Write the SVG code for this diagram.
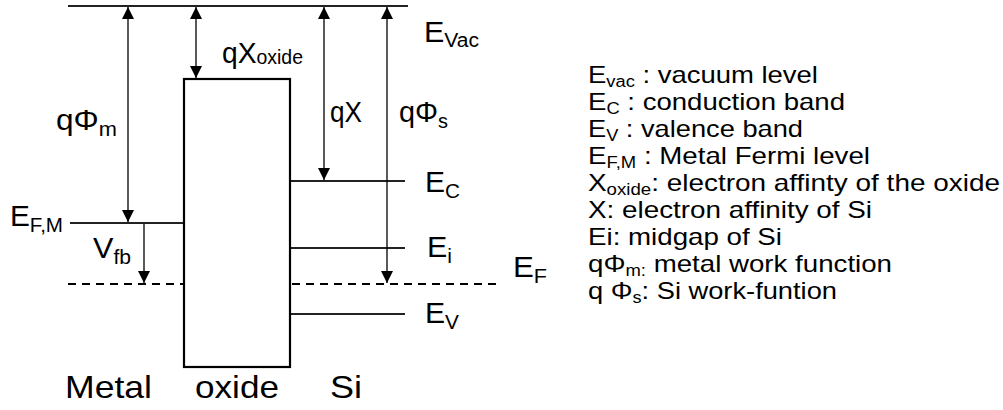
<svg xmlns="http://www.w3.org/2000/svg" width="1003" height="410" viewBox="0 0 1003 410">
<style>
text{font-family:"Liberation Sans",Arial,sans-serif;fill:#000}
.lbl{font-size:29px}
.big{font-size:32px}
.leg{font-size:24px}
.ln{stroke:#000;stroke-width:1.3;fill:none}
.lvl{stroke:#222;stroke-width:1.8;fill:none}
.dash{stroke:#000;stroke-width:2;stroke-dasharray:8 6;fill:none}
</style>
<defs>
<marker id="ah" viewBox="0 0 10 10" refX="10" refY="5" markerWidth="13" markerHeight="12" markerUnits="userSpaceOnUse" orient="auto-start-reverse">
<path d="M0,0 L10,5 L0,10 z" fill="#000"/>
</marker>
</defs>
<g id="levels">
<line class="lvl" x1="68" y1="6" x2="408" y2="6" stroke-width="2.2"/>
<line class="lvl" x1="70" y1="223" x2="184" y2="223" stroke="#444"/>
<line class="lvl" x1="290" y1="181" x2="405" y2="181"/>
<line class="lvl" x1="290" y1="248" x2="405" y2="248"/>
<line class="lvl" x1="290" y1="314" x2="405" y2="314"/>
<line class="dash" x1="68" y1="284" x2="184" y2="284"/>
<line class="dash" x1="292" y1="284" x2="500" y2="284"/>
</g>
<g id="oxide">
<rect x="184" y="79" width="106" height="288" fill="none" stroke="#000" stroke-width="2.2"/>
</g>
<g id="connectors">
<line class="ln" x1="128" y1="7" x2="128" y2="222" marker-start="url(#ah)" marker-end="url(#ah)"/>
<line class="ln" x1="196" y1="7" x2="196" y2="78" marker-start="url(#ah)" marker-end="url(#ah)"/>
<line class="ln" x1="324" y1="7" x2="324" y2="180" marker-start="url(#ah)" marker-end="url(#ah)"/>
<line class="ln" x1="387" y1="7" x2="387" y2="283" marker-start="url(#ah)" marker-end="url(#ah)"/>
<line class="ln" x1="144" y1="224" x2="144" y2="283" stroke-width="2" marker-end="url(#ah)"/>
</g>
<g id="labels">
<text class="lbl" x="424" y="42" textLength="55" lengthAdjust="spacingAndGlyphs">E<tspan font-size="20" dy="5">Vac</tspan></text>
<text class="lbl" x="222" y="63" textLength="81" lengthAdjust="spacingAndGlyphs">qX<tspan font-size="20" dy="1">oxide</tspan></text>
<text class="lbl" x="56" y="130" textLength="61" lengthAdjust="spacingAndGlyphs">qΦ<tspan font-size="20" dy="6">m</tspan></text>
<text class="lbl" x="330" y="122" textLength="32" lengthAdjust="spacingAndGlyphs">qX</text>
<text class="lbl" x="399" y="122" textLength="49" lengthAdjust="spacingAndGlyphs">qΦ<tspan font-size="20" dy="6">s</tspan></text>
<text class="lbl" x="425" y="192" textLength="35" lengthAdjust="spacingAndGlyphs">E<tspan font-size="20" dy="6">C</tspan></text>
<text class="lbl" x="10" y="226" textLength="53" lengthAdjust="spacingAndGlyphs">E<tspan font-size="20" dy="6">F,M</tspan></text>
<text class="lbl" x="93" y="258" textLength="38" lengthAdjust="spacingAndGlyphs">V<tspan font-size="20" dy="6">fb</tspan></text>
<text class="lbl" x="427" y="257" textLength="25" lengthAdjust="spacingAndGlyphs">E<tspan font-size="20" dy="6">i</tspan></text>
<text class="lbl" x="513" y="277" textLength="34" lengthAdjust="spacingAndGlyphs">E<tspan font-size="20" dy="6">F</tspan></text>
<text class="lbl" x="425" y="323" textLength="34" lengthAdjust="spacingAndGlyphs">E<tspan font-size="20" dy="6">V</tspan></text>
<text class="big" x="65" y="398" textLength="87" lengthAdjust="spacingAndGlyphs">Metal</text>
<text class="big" x="195" y="398" textLength="84" lengthAdjust="spacingAndGlyphs">oxide</text>
<text class="big" x="330" y="398" textLength="32" lengthAdjust="spacingAndGlyphs">Si</text>
</g>
<g id="legend">
<text class="leg" x="588" y="83" textLength="230" lengthAdjust="spacingAndGlyphs">E<tspan font-size="16" dy="4">vac</tspan><tspan dy="-4"> : vacuum  level</tspan></text>
<text class="leg" x="588" y="110" textLength="257" lengthAdjust="spacingAndGlyphs">E<tspan font-size="16" dy="4">C</tspan><tspan dy="-4"> : conduction  band</tspan></text>
<text class="leg" x="588" y="137" textLength="215" lengthAdjust="spacingAndGlyphs">E<tspan font-size="16" dy="4">V</tspan><tspan dy="-4"> : valence  band</tspan></text>
<text class="leg" x="588" y="164" textLength="282" lengthAdjust="spacingAndGlyphs">E<tspan font-size="16" dy="4">F,M</tspan><tspan dy="-4"> : Metal Fermi level</tspan></text>
<text class="leg" x="588" y="191" textLength="412" lengthAdjust="spacingAndGlyphs">X<tspan font-size="16" dy="4">oxide</tspan><tspan dy="-4">: electron  affinty  of the oxide</tspan></text>
<text class="leg" x="588" y="218" textLength="284" lengthAdjust="spacingAndGlyphs">X: electron  affinity  of Si</text>
<text class="leg" x="588" y="245" textLength="194" lengthAdjust="spacingAndGlyphs">Ei: midgap  of Si</text>
<text class="leg" x="588" y="272" textLength="304" lengthAdjust="spacingAndGlyphs">qΦ<tspan font-size="16" dy="4">m:</tspan><tspan dy="-4"> metal  work  function</tspan></text>
<text class="leg" x="588" y="299" textLength="249" lengthAdjust="spacingAndGlyphs">q Φ<tspan font-size="16" dy="4">s</tspan><tspan dy="-4">: Si work-funtion</tspan></text>
</g>
</svg>
